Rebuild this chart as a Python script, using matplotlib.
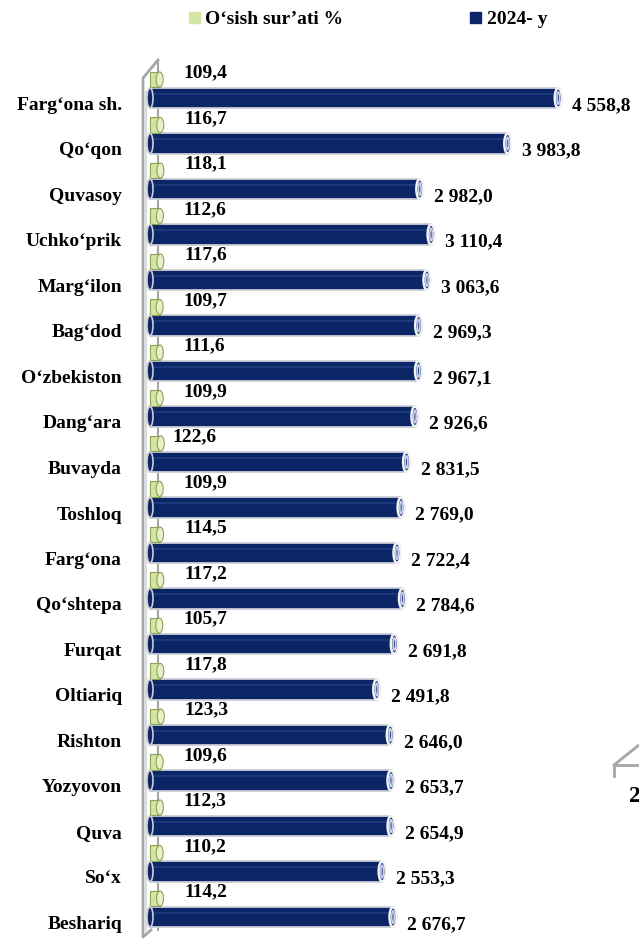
import matplotlib.pyplot as plt
from matplotlib.lines import Line2D
from matplotlib.patches import Ellipse, Rectangle

regions = ['Farg‘ona sh.', 'Qo‘qon', 'Quvasoy', 'Uchko‘prik', 'Marg‘ilon',
           'Bag‘dod', 'O‘zbekiston', 'Dang‘ara', 'Buvayda', 'Toshloq',
           'Farg‘ona', 'Qo‘shtepa', 'Furqat', 'Oltiariq', 'Rishton',
           'Yozyovon', 'Quva', 'So‘x', 'Beshariq']
growth = [109.4, 116.7, 118.1, 112.6, 117.6, 109.7, 111.6, 109.9, 122.6,
          109.9, 114.5, 117.2, 105.7, 117.8, 123.3, 109.6, 112.3, 110.2, 114.2]
value_2024 = [4558.8, 3983.8, 2982.0, 3110.4, 3063.6, 2969.3, 2967.1, 2926.6,
              2831.5, 2769.0, 2722.4, 2784.6, 2691.8, 2491.8, 2646.0, 2653.7,
              2654.9, 2553.3, 2676.7]
legend_labels = ['O‘sish sur’ati %', '2024- y']

NAVY = '#0B2566'
GREEN = '#D3E5A2'
GREEN_EDGE = '#8DA257'
WALL = '#A6A6A6'

W, H = 639, 940
SX = 0.0878       # pixels per value unit
SY = 45.5         # pixels per row
X0, Y0 = 158, 98  # pixel position of value 0 / first row


def dx(p):
    return p / SX


def dy(p):
    return p / SY


def fmt(v):
    s = f'{v:,.1f}'
    return s.replace(',', ' ').replace('.', ',')


plt.rcParams['font.family'] = ['Liberation Serif', 'DejaVu Serif']
plt.rcParams['font.weight'] = 'bold'
plt.rcParams['font.size'] = 14

fig = plt.figure(figsize=(W / 100, H / 100), dpi=100)
ax = fig.add_axes([0, 0, 1, 1])
ax.set_xlim(-X0 / SX, (W - X0) / SX)
ax.set_ylim((H - Y0) / SY, -Y0 / SY)
ax.axis('off')

# 3d wall frame
x_front, x_back = dx(143 - X0), dx(158 - X0)
y_top_f, y_top_b = dy(78 - Y0), dy(60 - Y0)
y_bot_f, y_bot_b = dy(937 - Y0), dy(930 - Y0)
ax.plot([x_back, x_front, x_front, dx(151 - X0)],
        [y_top_b, y_top_f, y_bot_f, y_bot_b], color=WALL, lw=2, zorder=1)
ax.plot([dx(146 - X0)] * 2, [y_top_f + 0.3, y_bot_f - 0.1], color='#DCDCDC',
        lw=1.5, zorder=1)
ax.plot([x_back, x_back], [y_top_b, y_bot_b], color=WALL, lw=1.5, zorder=1)

depth = dx(8)
nh, gh = 0.44, 0.33
for i, (name, g, v) in enumerate(zip(regions, growth, value_2024)):
    yn = i
    yg = i - dy(18.5)

    # navy cylinder
    ax.barh(yn, v + depth, left=-depth, height=nh, color=NAVY,
            edgecolor='#C9CDD6', lw=1.3, zorder=3)
    ax.plot([-depth, v], [yn - nh * 0.22] * 2, color='#1F3C80', lw=1.2,
            zorder=3.5, solid_capstyle='butt')
    ax.add_patch(Ellipse((-depth, yn), dx(6), nh, facecolor=NAVY,
                         edgecolor='#C9CDD6', lw=1.2, zorder=3.6))
    ax.add_patch(Ellipse((v, yn), dx(7), nh, facecolor=NAVY,
                         edgecolor='#F2F2F2', lw=1.8, zorder=4))
    ax.add_patch(Ellipse((v, yn), dx(2.5), nh * 0.62, facecolor='none',
                         edgecolor='#C8D2EE', lw=1.2, zorder=4.1))

    # green cylinder
    ax.barh(yg, g, left=-depth, height=gh, color=GREEN,
            edgecolor=GREEN_EDGE, lw=0.8, zorder=3)
    ax.add_patch(Ellipse((g - depth, yg), dx(7), gh, facecolor='#E6F1C8',
                         edgecolor=GREEN_EDGE, lw=0.8, zorder=3.2))

    # labels
    ax.text(dx(122 - X0), yn + dy(12), name, ha='right', va='baseline')
    ax.text(v + dx(14), yn + dy(12), fmt(v), ha='left', va='baseline')
    nudge = -12 if i == 8 else 0
    ax.text(g + dx(16 + nudge), yg - dy(2), fmt(g), ha='left',
            va='baseline', zorder=5)

handles = [Rectangle((0, 0), 1, 1, color=GREEN),
           Rectangle((0, 0), 1, 1, color=NAVY)]
fig.legend(handles, legend_labels, loc='center',
           bbox_to_anchor=(368 / W, 1 - 20 / H), ncol=2, frameon=False,
           handlelength=0.55, handleheight=0.55, handletextpad=0.3,
           columnspacing=6.5, fontsize=14)

# corner of the neighbouring chart, cut off at the right edge
fig.add_artist(Line2D([614 / W, 1, 1], [1 - 765 / H, 1 - 765 / H, 1 - 765 / H],
                      color=WALL, lw=2))
fig.add_artist(Line2D([614 / W, 1], [1 - 765 / H, 1 - 745 / H],
                      color=WALL, lw=2))
fig.add_artist(Line2D([614 / W, 614 / W], [1 - 765 / H, 1 - 776 / H],
                      color=WALL, lw=2))
fig.text(629 / W, 1 - 786 / H, '2', ha='left', va='top', fontsize=17)

fig.savefig('out.png', dpi=100)
